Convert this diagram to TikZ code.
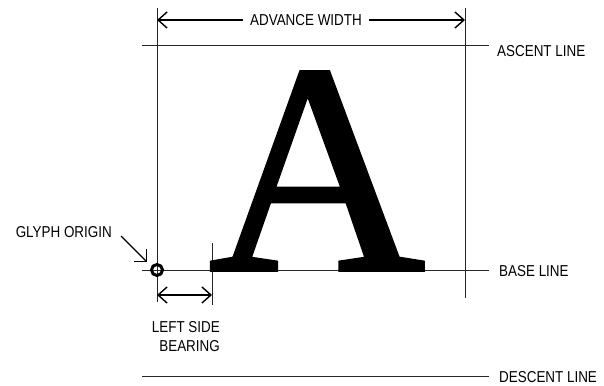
\documentclass[tikz,border=0pt]{standalone}
\usepackage{fontspec}
\setmainfont{Liberation Sans}[FakeStretch=0.85]
\newfontfamily\glyphfont{Liberation Serif}[FakeBold=1.2]
\usetikzlibrary{arrows.meta}
\begin{document}
\begin{tikzpicture}[x=1pt,y=-1pt,
  thinline/.style={line width=0.9pt, black!85},
  dimarrow/.style={line width=1.4pt, {Straight Barb[length=9pt,width=16pt]}-{Straight Barb[length=9pt,width=16pt]}},
  lbl/.style={font=\fontsize{15.8}{19}\selectfont, inner sep=0pt}]
\useasboundingbox (0,0) rectangle (604,385);
% guide coordinates
\coordinate (LT) at (157,8);   \coordinate (LB) at (157,302);
\coordinate (RT) at (465,8);   \coordinate (RB) at (465,298);
\coordinate (AL) at (142,45);  \coordinate (AR) at (489,45);
\coordinate (BL) at (142,270); \coordinate (BR) at (489,270);
\coordinate (DL) at (142,376); \coordinate (DR) at (489,376);
\coordinate (ST) at (212,243); \coordinate (SB) at (212,305);
\coordinate (AW1) at (157,20); \coordinate (AW2) at (465,20);
\coordinate (LS1) at (157,295); \coordinate (LS2) at (212,295);
\coordinate (GO1) at (121,236); \coordinate (GO2) at (147,262);
% lines
\draw[thinline] (LT) -- (LB);
\draw[thinline] (RT) -- (RB);
\draw[thinline] (AL) -- (AR);
\draw[thinline] (BL) -- (BR);
\draw[thinline] (DL) -- (DR);
\draw[thinline] (ST) -- (SB);
% glyph
\node[font=\glyphfont\fontsize{300}{300}\selectfont, inner sep=0pt, anchor=base] (glyph) at (317,270) {A};
% dimension arrows
\draw[dimarrow] (AW1) -- (AW2);
\node[lbl, fill=white, inner xsep=7pt, inner ysep=3pt] (adv) at (306,20) {ADVANCE WIDTH};
\draw[dimarrow] (LS1) -- (LS2);
\draw[line width=1.4pt, -{Straight Barb[length=9pt,width=18pt]}] (GO1) -- (GO2);
% origin
\node[circle, draw, line width=3pt, minimum size=11pt, inner sep=0pt] (origin) at (157,270) {};
% labels
\node[lbl, anchor=west] (asc) at (497,51) {ASCENT LINE};
\node[lbl, anchor=west] (base) at (499,271) {BASE LINE};
\node[lbl, anchor=west] (desc) at (499,377) {DESCENT LINE};
\node[lbl, anchor=east] (gorig) at (112,232) {GLYPH ORIGIN};
\node[lbl, anchor=east] (lsb1) at (220,327) {LEFT SIDE};
\node[lbl, anchor=east] (lsb2) at (220,346) {BEARING};
\end{tikzpicture}
\end{document}
